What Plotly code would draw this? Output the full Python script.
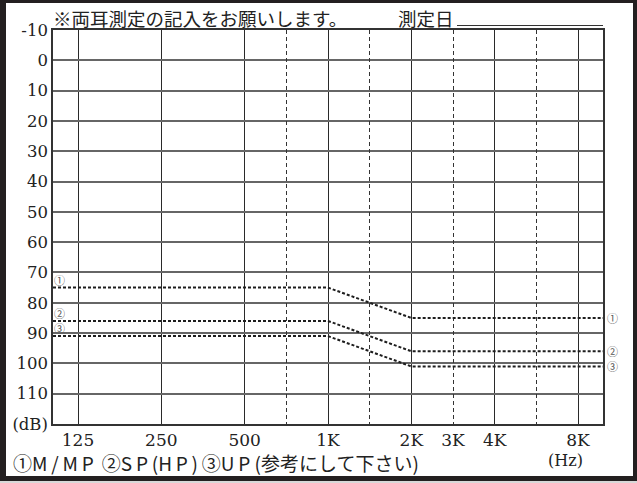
import plotly.graph_objects as go

# ---- data ----
octave_freqs = [125, 250, 500, 1000, 2000, 4000, 8000]
octave_labels = ["125", "250", "500", "1K", "2K", "4K", "8K"]
half_freqs = [750, 1500, 3000, 6000]
half_labels = ["", "", "3K", ""]
db_ticks = [-10, 0, 10, 20, 30, 40, 50, 60, 70, 80, 90, 100, 110, 120]
db_labels = ["-10", "0", "10", "20", "30", "40", "50", "60", "70", "80", "90", "100", "110", "(dB)"]

series_names = ["①", "②", "③"]
low_levels = [75, 86, 91]     # dB up to 1K
high_levels = [85, 96, 101]   # dB from 2K
bend_start = 1000
bend_end = 2000

# ---- position helpers (evenly spaced audiogram) ----
half_positions = [2.5, 3.5, 4.5, 5.5]

def pos(f):
    if f in octave_freqs:
        return octave_freqs.index(f)
    return half_positions[half_freqs.index(f)]

X_MIN, X_MAX = -0.3, 6.3
W, H = 637, 483
L, R, T, B = 53, 34, 30, 59

def px(x):
    return (x - L) / (W - L - R)

def py(y):
    return (H - B - y) / (H - T - B)

fig = go.Figure()

for name, lo, hi in zip(series_names, low_levels, high_levels):
    fig.add_trace(go.Scatter(
        x=[X_MIN, pos(bend_start), pos(bend_end), X_MAX],
        y=[lo, lo, hi, hi],
        mode="lines",
        line=dict(color="#1e1e1e", width=2, dash="3px,2px"),
        showlegend=False, hoverinfo="skip", cliponaxis=False,
    ))

# invisible trace to activate dashed-grid axis
fig.add_trace(go.Scatter(x=[None], y=[None], xaxis="x2", yaxis="y",
                         showlegend=False, hoverinfo="skip"))

annotations = []
# circled numbers near the lines
for name, lo, hi in zip(series_names, low_levels, high_levels):
    annotations.append(dict(x=X_MIN, y=lo, xref="x", yref="y", text=name,
                            showarrow=False, xanchor="left", yanchor="middle",
                            xshift=0, yshift=8, borderpad=0,
                            font=dict(size=11, color="#555", family="Noto Sans CJK JP")))
    annotations.append(dict(x=X_MAX, y=hi, xref="x", yref="y", text=name,
                            showarrow=False, xanchor="left", yanchor="middle",
                            xshift=3, yshift=0, borderpad=0,
                            font=dict(size=11, color="#555", family="Noto Sans CJK JP")))

jp = "Noto Sans CJK JP"
ts = "\u2009"
bottom_text = ("①M" + ts + "/" + ts + "M" + ts + "P" + " " + ts + "②S" + ts + "P" + ts + "(H" + ts + "P" + ts + ")"
               + ts + "③U" + ts + "P" + " (参考にして下さい)")
annotations += [
    dict(x=px(51), y=py(18), xref="paper", yref="paper", xanchor="left", yanchor="middle",
         text="※両耳測定の記入をお願いします。", showarrow=False,
         font=dict(size=18.5, color="#222", family=jp)),
    dict(x=px(396), y=py(18), xref="paper", yref="paper", xanchor="left", yanchor="middle",
         text="測定日", showarrow=False,
         font=dict(size=18.5, color="#222", family=jp)),
    dict(x=px(11), y=py(462), xref="paper", yref="paper", xanchor="left", yanchor="middle",
         text=bottom_text, showarrow=False,
         font=dict(size=19, color="#222", family=jp)),
    dict(x=px(565), y=py(460), xref="paper", yref="paper", xanchor="center", yanchor="middle",
         text="(Hz)", showarrow=False,
         font=dict(size=16, color="#222", family="DejaVu Serif")),
]

shapes = [
    # white inner card over dark frame
    dict(type="rect", xref="paper", yref="paper", x0=px(6), x1=px(633), y0=py(476), y1=py(3),
         fillcolor="white", line=dict(width=0), layer="below"),
    dict(type="rect", xref="paper", yref="paper", x0=px(0), x1=px(637), y0=py(483), y1=py(481),
         fillcolor="#d8d8d8", line=dict(width=0), layer="below"),
    # date underline
    dict(type="line", xref="paper", yref="paper", x0=px(457), x1=px(603), y0=py(25.5), y1=py(25.5),
         line=dict(color="#333", width=1)),
]

fig.update_layout(
    width=W, height=H,
    margin=dict(l=L, r=R, t=T, b=B, autoexpand=False),
    paper_bgcolor="#231f20",
    plot_bgcolor="white",
    showlegend=False,
    annotations=annotations,
    shapes=shapes,
    xaxis=dict(range=[X_MIN, X_MAX], tickvals=[pos(f) for f in octave_freqs], ticktext=octave_labels,
               showgrid=True, gridcolor="#2a2a2a", gridwidth=1.3,
               zeroline=False, showline=True, mirror=True, linecolor="#333", linewidth=1.5,
               ticks="", tickfont=dict(family="DejaVu Serif", size=17, color="#222"),
               automargin=False, fixedrange=True),
    xaxis2=dict(range=[X_MIN, X_MAX], overlaying="x", side="bottom",
                tickvals=[pos(f) for f in half_freqs], ticktext=half_labels,
                showgrid=True, gridcolor="#333", gridwidth=1.2, griddash="4px,3px",
                zeroline=False, showline=False, ticks="", ticklabelstandoff=4,
                tickfont=dict(family="DejaVu Serif", size=17, color="#222"),
                automargin=False, fixedrange=True),
    yaxis=dict(range=[120, -10], tickvals=db_ticks, ticktext=db_labels,
               showgrid=True, gridcolor="#666", gridwidth=1.5,
               zeroline=False, showline=True, mirror=True, linecolor="#333", linewidth=1.5,
               ticks="", tickfont=dict(family="DejaVu Serif", size=16.5, color="#222"),
               automargin=False, fixedrange=True),
)

fig.write_html("out.html",
               config={"displayModeBar": False},
               post_script="document.body.style.margin='0';document.body.style.overflow='hidden';")
